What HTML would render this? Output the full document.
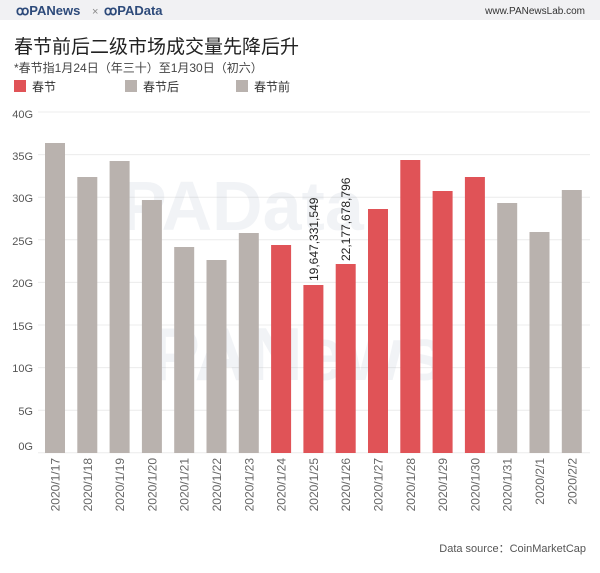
<!DOCTYPE html>
<html><head><meta charset="utf-8"><style>
body{margin:0;background:#fff;width:600px;height:568px;overflow:hidden;font-family:"Liberation Sans","Noto Sans CJK SC",sans-serif;}
</style></head><body>
<svg width="600" height="568" xmlns="http://www.w3.org/2000/svg" font-family="Liberation Sans, Noto Sans CJK SC, sans-serif">
<rect x="0" y="0" width="600" height="20" fill="#f1f1f3"/>
<text x="16" y="15" font-size="13" font-weight="bold" fill="#2d4a7a">ꝏPANews</text>
<text x="92" y="15" font-size="11" fill="#888">×</text>
<text x="104" y="15" font-size="13" font-weight="bold" fill="#2d4a7a">ꝏPAData</text>
<text x="585" y="14" font-size="10" fill="#333" text-anchor="end">www.PANewsLab.com</text>
<text x="14" y="53" font-size="19" fill="#222">春节前后二级市场成交量先降后升</text>
<text x="14" y="72" font-size="12" fill="#444">*春节指1月24日（年三十）至1月30日（初六）</text>
<rect x="14" y="80" width="12" height="12" fill="#e05357"/><text x="32" y="91" font-size="12" fill="#333">春节</text>
<rect x="125" y="80" width="12" height="12" fill="#b9b2ae"/><text x="143" y="91" font-size="12" fill="#333">春节后</text>
<rect x="236" y="80" width="12" height="12" fill="#b9b2ae"/><text x="254" y="91" font-size="12" fill="#333">春节前</text>
<g stroke="#ececec" stroke-width="1">
<line x1="38" x2="590" y1="112" y2="112"/><line x1="38" x2="590" y1="154.6" y2="154.6"/><line x1="38" x2="590" y1="197.2" y2="197.2"/><line x1="38" x2="590" y1="239.8" y2="239.8"/><line x1="38" x2="590" y1="282.4" y2="282.4"/><line x1="38" x2="590" y1="325" y2="325"/><line x1="38" x2="590" y1="367.6" y2="367.6"/><line x1="38" x2="590" y1="410.2" y2="410.2"/><line x1="38" x2="590" y1="452.8" y2="452.8"/>
</g>
<g font-size="11" fill="#555" text-anchor="end">
<text x="33" y="118">40G</text><text x="33" y="160">35G</text><text x="33" y="202">30G</text><text x="33" y="245">25G</text><text x="33" y="287">20G</text><text x="33" y="330">15G</text><text x="33" y="372">10G</text><text x="33" y="415">5G</text><text x="33" y="450">0G</text>
</g>
<text x="120" y="230" font-size="70" font-weight="bold" fill="#2d4a7a" opacity="0.06">PAData</text>
<text x="150" y="380" font-size="75" font-weight="bold" fill="#2d4a7a" opacity="0.06">PANews</text>
<g>
<rect x="45" y="143" width="20" height="310" fill="#b9b2ae"/>
<rect x="77.3" y="177" width="20" height="276" fill="#b9b2ae"/>
<rect x="109.6" y="161" width="20" height="292" fill="#b9b2ae"/>
<rect x="141.9" y="200" width="20" height="253" fill="#b9b2ae"/>
<rect x="174.2" y="247" width="20" height="206" fill="#b9b2ae"/>
<rect x="206.5" y="260" width="20" height="193" fill="#b9b2ae"/>
<rect x="238.8" y="233" width="20" height="220" fill="#b9b2ae"/>
<rect x="271.1" y="245" width="20" height="208" fill="#e05357"/>
<rect x="303.4" y="285" width="20" height="168" fill="#e05357"/>
<rect x="335.7" y="264" width="20" height="189" fill="#e05357"/>
<rect x="368" y="209" width="20" height="244" fill="#e05357"/>
<rect x="400.3" y="160" width="20" height="293" fill="#e05357"/>
<rect x="432.6" y="191" width="20" height="262" fill="#e05357"/>
<rect x="464.9" y="177" width="20" height="276" fill="#e05357"/>
<rect x="497.2" y="203" width="20" height="250" fill="#b9b2ae"/>
<rect x="529.5" y="232" width="20" height="221" fill="#b9b2ae"/>
<rect x="561.8" y="190" width="20" height="263" fill="#b9b2ae"/>
</g>
<g font-size="12" fill="#222">
<text transform="translate(318,281) rotate(-90)">19,647,331,549</text>
<text transform="translate(350,261) rotate(-90)">22,177,678,796</text>
</g>
<g font-size="12" fill="#666" text-anchor="end">
<text transform="translate(59.5,458) rotate(-90)">2020/1/17</text>
<text transform="translate(91.8,458) rotate(-90)">2020/1/18</text>
<text transform="translate(124.1,458) rotate(-90)">2020/1/19</text>
<text transform="translate(156.4,458) rotate(-90)">2020/1/20</text>
<text transform="translate(188.7,458) rotate(-90)">2020/1/21</text>
<text transform="translate(221,458) rotate(-90)">2020/1/22</text>
<text transform="translate(253.3,458) rotate(-90)">2020/1/23</text>
<text transform="translate(285.6,458) rotate(-90)">2020/1/24</text>
<text transform="translate(317.9,458) rotate(-90)">2020/1/25</text>
<text transform="translate(350.2,458) rotate(-90)">2020/1/26</text>
<text transform="translate(382.5,458) rotate(-90)">2020/1/27</text>
<text transform="translate(414.8,458) rotate(-90)">2020/1/28</text>
<text transform="translate(447.1,458) rotate(-90)">2020/1/29</text>
<text transform="translate(479.4,458) rotate(-90)">2020/1/30</text>
<text transform="translate(511.7,458) rotate(-90)">2020/1/31</text>
<text transform="translate(544,458) rotate(-90)">2020/2/1</text>
<text transform="translate(576.3,458) rotate(-90)">2020/2/2</text>
</g>
<text x="586" y="552" font-size="11" fill="#555" text-anchor="end">Data source：CoinMarketCap</text>
</svg>
</body></html>
